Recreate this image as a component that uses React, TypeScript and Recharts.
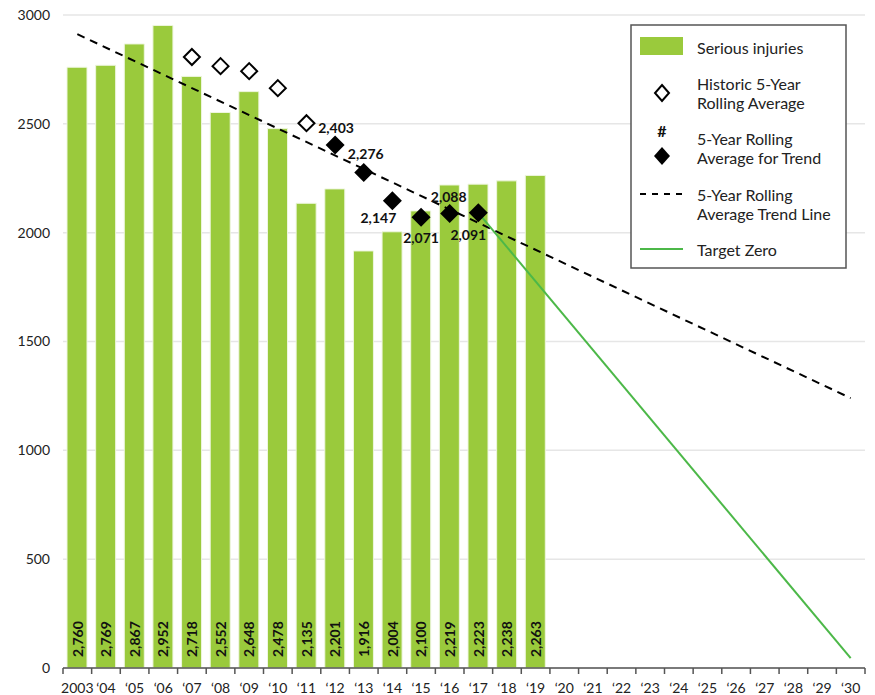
import React from 'react'
import { ComposedChart, Bar, Line, XAxis, YAxis, CartesianGrid, LabelList } from 'recharts'

const years = ['2003', '‘04', '‘05', '‘06', '‘07', '‘08', '‘09', '‘10', '‘11', '‘12', '‘13', '‘14', '‘15', '‘16', '‘17', '‘18', '‘19', '‘20', '‘21', '‘22', '‘23', '‘24', '‘25', '‘26', '‘27', '‘28', '‘29', '‘30']

// serious injuries 2003..2019
const injuries = [2760, 2769, 2867, 2952, 2718, 2552, 2648, 2478, 2135, 2201, 1916, 2004, 2100, 2219, 2223, 2238, 2263]

// historic 5-year rolling average, '07..'11
const historicYears = ['‘07', '‘08', '‘09', '‘10', '‘11']
const historicAvg = [2807, 2765, 2742, 2664, 2503]

// 5-year rolling average for trend, '12..'17
const trendYears = ['‘12', '‘13', '‘14', '‘15', '‘16', '‘17']
const trendAvg = [2403, 2276, 2147, 2071, 2088, 2091]

// trend line and target zero end points
const trendLineYears = ['2003', '‘30']
const trendLineValues = [2912, 1240]
const targetYears = ['‘17', '‘30']
const targetValues = [2091, 45]

const yTicks = [0, 500, 1000, 1500, 2000, 2500, 3000]

const GREEN_BAR = '#9aca3c'
const GREEN_LINE = '#4cb848'
const FONT = 'Lato, "Open Sans", sans-serif'

const data = years.map((year, i) => {
  const hi = historicYears.indexOf(year)
  const ti = trendYears.indexOf(year)
  const li = trendLineYears.indexOf(year)
  const gi = targetYears.indexOf(year)
  return {
    year,
    injuries: i < injuries.length ? injuries[i] : null,
    historic: hi >= 0 ? historicAvg[hi] : null,
    trend: ti >= 0 ? trendAvg[ti] : null,
    trendLine: li >= 0 ? trendLineValues[li] : null,
    target: gi >= 0 ? targetValues[gi] : null,
  }
})

// label offsets for the filled diamonds
const trendLabelOffset: Record<string, [number, number]> = {
  '‘12': [1, -17],
  '‘13': [2, -19],
  '‘14': [-14, 17],
  '‘15': [0, 20],
  '‘16': [-1, -17],
  '‘17': [-10, 22],
}

const fmt = (v: number) => v.toLocaleString('en-US')

function XTick(props: any) {
  const { x, y, payload, index } = props
  const half = payload.offset || 14.32
  const last = index === years.length - 1
  return (
    <g>
      <line x1={x - half} x2={x - half} y1={y - 8} y2={y - 2} stroke="#555" strokeWidth={1.5} />
      {last && <line x1={x + half} x2={x + half} y1={y - 8} y2={y - 2} stroke="#555" strokeWidth={1.5} />}
      <text x={x} y={y + 17} textAnchor="middle" fontSize={14} fill="#222" fontFamily={FONT}>
        {payload.value}
      </text>
    </g>
  )
}

function OpenDiamond(props: any) {
  const { cx, cy, index } = props
  if (cx == null || cy == null || props.value == null) return <g key={index} />
  const r = 8
  return (
    <path key={index} d={`M${cx},${cy - r}L${cx + r},${cy}L${cx},${cy + r}L${cx - r},${cy}Z`} fill="#fff" stroke="#000" strokeWidth={2} />
  )
}

function FilledDiamond(props: any) {
  const { cx, cy, index } = props
  if (cx == null || cy == null || props.value == null) return <g key={index} />
  const r = 9.5
  return <path key={index} d={`M${cx},${cy - r}L${cx + r},${cy}L${cx},${cy + r}L${cx - r},${cy}Z`} fill="#000" />
}

function BarValue(props: any) {
  const { x, y, width, height, value } = props
  if (value == null) return null
  const cx = x + width / 2
  const by = y + height - 11
  return (
    <text x={cx} y={by} transform={`rotate(-90 ${cx} ${by})`} textAnchor="start" dominantBaseline="central" fontSize={14} fontWeight={700} fill="#111" fontFamily={FONT}>
      {fmt(value)}
    </text>
  )
}

function TrendValue(props: any) {
  const { x, y, value, index } = props
  if (value == null) return null
  const off = trendLabelOffset[years[index]] || [0, -17]
  return (
    <text x={x + off[0]} y={y + off[1]} textAnchor="middle" dominantBaseline="central" fontSize={14} fontWeight={700} fill="#111" fontFamily={FONT}>
      {fmt(value)}
    </text>
  )
}

function LegendBox() {
  const text = { fontSize: 16, fill: '#222', fontFamily: FONT }
  return (
    <svg width={217} height={245} style={{ position: 'absolute', left: 630, top: 24 }}>
      <rect x={1} y={1} width={215} height={243} fill="#fff" stroke="#555" strokeWidth={1.5} />
      <rect x={10} y={13} width={43} height={18} fill={GREEN_BAR} />
      <text x={67} y={23} dominantBaseline="central" {...text}>Serious injuries</text>

      <path d="M32,61L39,69L32,77L25,69Z" fill="#fff" stroke="#000" strokeWidth={2} />
      <text x={67} y={59} dominantBaseline="central" {...text}>Historic 5-Year</text>
      <text x={67} y={78} dominantBaseline="central" {...text}>Rolling Average</text>

      <text x={32} y={106} textAnchor="middle" dominantBaseline="central" fontSize={16} fontWeight={700} fill="#111" fontFamily={FONT}>#</text>
      <path d="M32,123L40,132L32,141L24,132Z" fill="#000" />
      <text x={67} y={114} dominantBaseline="central" {...text}>5-Year Rolling</text>
      <text x={67} y={133} dominantBaseline="central" {...text}>Average for Trend</text>

      <line x1={10} x2={53} y1={170} y2={170} stroke="#000" strokeWidth={2} strokeDasharray="6 6" />
      <text x={67} y={170} dominantBaseline="central" {...text}>5-Year Rolling</text>
      <text x={67} y={189} dominantBaseline="central" {...text}>Average Trend Line</text>

      <line x1={10} x2={53} y1={225} y2={225} stroke={GREEN_LINE} strokeWidth={2} />
      <text x={67} y={225} dominantBaseline="central" {...text}>Target Zero</text>
    </svg>
  )
}

export default function App() {
  return (
    <div style={{ position: 'absolute', left: 0, top: 0, width: 875, height: 695, background: '#fff' }}>
      <ComposedChart width={875} height={695} data={data} margin={{ top: 15, right: 10, bottom: 0, left: 8 }}>
        <CartesianGrid vertical={false} stroke="#e6e6e6" strokeWidth={1.5} />
        <XAxis dataKey="year" height={27} interval={0} tickLine={false} axisLine={{ stroke: '#555', strokeWidth: 1.5 }} tick={<XTick />} />
        <YAxis width={55} domain={[0, 3000]} ticks={yTicks} axisLine={false} tickLine={false} tickMargin={7} tick={{ fontSize: 14, fill: '#222', fontFamily: FONT }} />
        <Bar dataKey="injuries" barSize={20} fill={GREEN_BAR} stroke="#eef6df" strokeWidth={1} isAnimationActive={false}>
          <LabelList dataKey="injuries" content={<BarValue />} />
        </Bar>
        <Line dataKey="trendLine" stroke="#000" strokeWidth={2} strokeDasharray="8 6" dot={false} connectNulls isAnimationActive={false} />
        <Line dataKey="target" stroke={GREEN_LINE} strokeWidth={2} dot={false} connectNulls isAnimationActive={false} />
        <Line dataKey="historic" stroke="none" dot={<OpenDiamond />} activeDot={false} isAnimationActive={false} />
        <Line dataKey="trend" stroke="none" dot={<FilledDiamond />} activeDot={false} isAnimationActive={false}>
          <LabelList dataKey="trend" content={<TrendValue />} />
        </Line>
      </ComposedChart>
      <LegendBox />
    </div>
  )
}
